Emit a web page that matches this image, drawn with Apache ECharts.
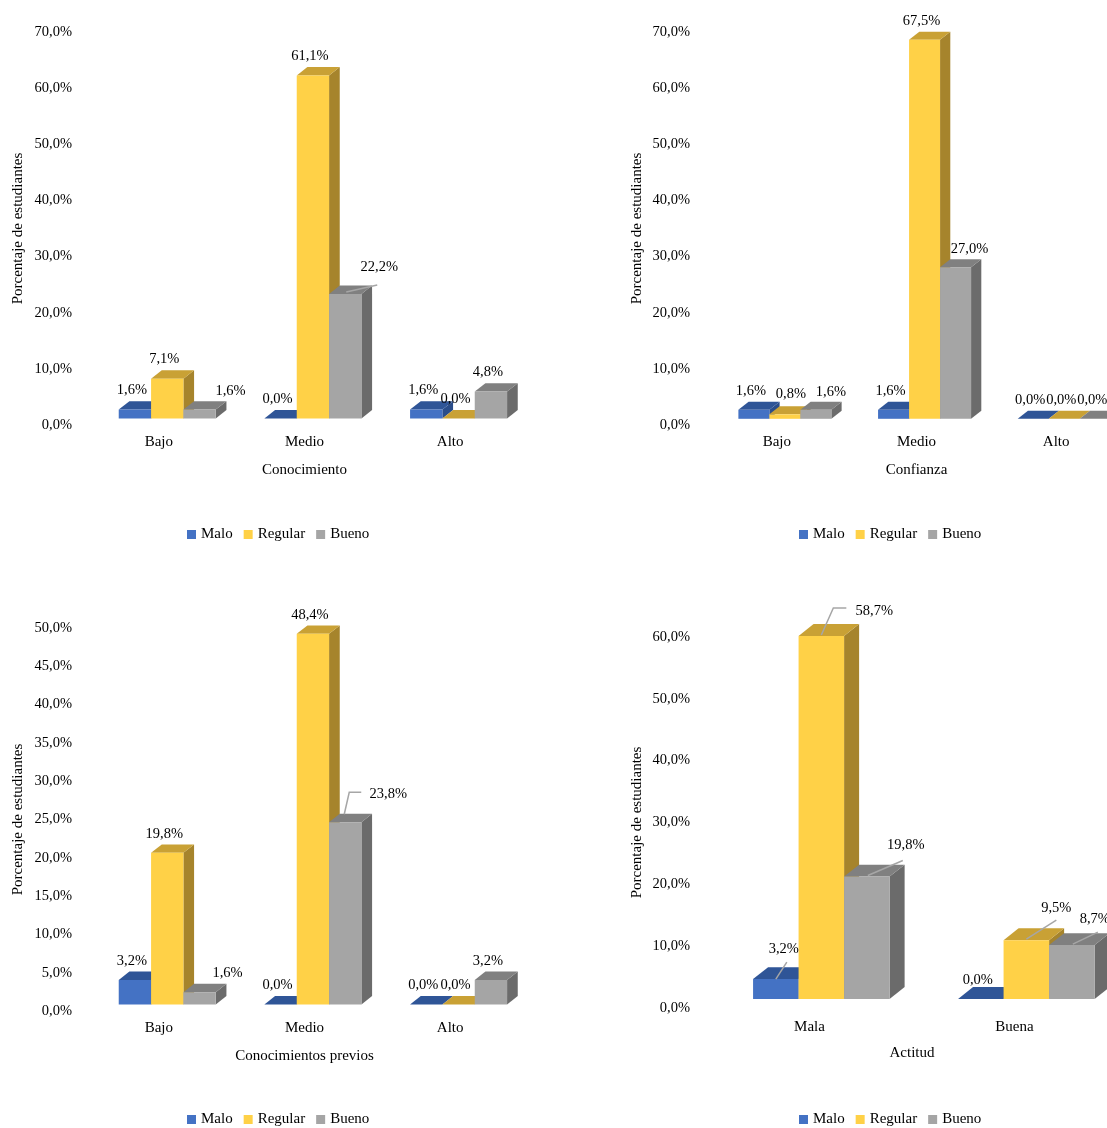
<!DOCTYPE html>
<html>
<head>
<meta charset="utf-8">
<script src="https://cdn.jsdelivr.net/npm/echarts@6/dist/echarts.min.js"></script>
<style>
  html, body { margin: 0; padding: 0; background: #ffffff; }
  #chart { width: 1107px; height: 1128px; }
</style>
</head>
<body>
<div id="chart"></div>
<script>
// ---- data ----
const seriesNames = ['Malo', 'Regular', 'Bueno'];

const catsConocimiento = ['Bajo', 'Medio', 'Alto'];
const maloConocimiento = [1.6, 0.0, 1.6];
const regularConocimiento = [7.1, 61.1, 0.0];
const buenoConocimiento = [1.6, 22.2, 4.8];

const catsConfianza = ['Bajo', 'Medio', 'Alto'];
const maloConfianza = [1.6, 1.6, 0.0];
const regularConfianza = [0.8, 67.5, 0.0];
const buenoConfianza = [1.6, 27.0, 0.0];

const catsPrevios = ['Bajo', 'Medio', 'Alto'];
const maloPrevios = [3.2, 0.0, 0.0];
const regularPrevios = [19.8, 48.4, 0.0];
const buenoPrevios = [1.6, 23.8, 3.2];

const catsActitud = ['Mala', 'Buena'];
const maloActitud = [3.2, 0.0];
const regularActitud = [58.7, 9.5];
const buenoActitud = [19.8, 8.7];

const yAxisTitle = 'Porcentaje de estudiantes';

// ---- styling ----
const FONT = '"Liberation Serif", "Times New Roman", serif';
const faces = [
  { front: '#4472C4', top: '#2F5597', side: '#2A4D8A' },
  { front: '#FFD147', top: '#C9A135', side: '#A6842C' },
  { front: '#A5A5A5', top: '#808080', side: '#6B6B6B' }
];
const leaderColor = '#A6A6A6';

// label placement per bar ('series-category'): offset from the front top centre,
// optional leader polyline in the same relative pixels
const panels = [
  {
    name: 'Conocimiento', cats: catsConocimiento,
    values: [maloConocimiento, regularConocimiento, buenoConocimiento],
    max: 70, interval: 10,
    grid: { left: 86, top: 32, width: 437, height: 393 },
    nameGap: 60, labelMargin: 14, catMargin: 10,
    legend: { left: 187, top: 527 },
    tweaks: {
      '2-0': { at: [31, -18] },
      '2-1': { at: [34, -27], leader: [[1, -2], [32, -9]] }
    }
  },
  {
    name: 'Confianza', cats: catsConfianza,
    values: [maloConfianza, regularConfianza, buenoConfianza],
    max: 70, interval: 10,
    grid: { left: 707, top: 32, width: 419, height: 393 },
    nameGap: 62, labelMargin: 17, catMargin: 10,
    legend: { left: 799, top: 527 },
    tweaks: {
      '1-0': { at: [6, -20] },
      '2-0': { at: [15, -18] },
      '2-1': { at: [14, -18] }
    }
  },
  {
    name: 'Conocimientos previos', cats: catsPrevios,
    values: [maloPrevios, regularPrevios, buenoPrevios],
    max: 50, interval: 5,
    grid: { left: 86, top: 628, width: 437, height: 383 },
    nameGap: 60, labelMargin: 14, catMargin: 10,
    legend: { left: 187, top: 1112 },
    tweaks: {
      '2-0': { at: [28, -19] },
      '2-1': { at: [43, -28], leader: [[-1, -8], [4, -30], [16, -30]] }
    }
  },
  {
    name: 'Actitud', cats: catsActitud,
    values: [maloActitud, regularActitud, buenoActitud],
    max: 60, interval: 10,
    grid: { left: 707, top: 637, width: 410, height: 371 },
    nameGap: 62, labelMargin: 17, catMargin: 12,
    legend: { left: 799, top: 1112 },
    tweaks: {
      '0-0': { at: [8, -30], leader: [[0, 0], [11, -17]] },
      '1-0': { at: [53, -25], leader: [[0, -1], [12, -28], [25, -28]] },
      '2-0': { at: [39, -31], leader: [[1, -1], [36, -16]] },
      '1-1': { at: [30, -32], leader: [[0, -1], [30, -20]] },
      '2-1': { at: [23, -26], leader: [[1, -1], [26, -13]] }
    }
  }
];

const pct = v => v.toFixed(1).replace('.', ',') + '%';

// oblique 3D column: front face, top face and right side face
function barRenderer(sIdx, tweaks) {
  return function (params, api) {
    const ci = api.value(0);
    const val = api.value(1);
    const base = api.coord([ci, 0]);
    const topPt = api.coord([ci, val]);
    const band = api.size([1, 0])[0];
    const w = band * 0.222;
    const sx = 0.26 * w, sy = -0.2 * w;   // floor offset of the bar row
    const dx = 0.33 * w, dy = -0.26 * w;  // bar depth
    const x0 = base[0] - 1.5 * w + sIdx * w + sx;
    const x1 = x0 + w;
    const yb = base[1] + sy;
    const yt = topPt[1] + sy;
    const f = faces[sIdx];
    const cx = x0 + w / 2;

    const children = [
      { type: 'polygon', z2: sIdx,
        shape: { points: [[x1, yb], [x1 + dx, yb + dy], [x1 + dx, yt + dy], [x1, yt]] },
        style: { fill: f.side } },
      { type: 'polygon', z2: sIdx,
        shape: { points: [[x0, yt], [x1, yt], [x1 + dx, yt + dy], [x0 + dx, yt + dy]] },
        style: { fill: f.top } },
      { type: 'rect', z2: sIdx,
        shape: { x: x0, y: yt, width: w, height: Math.max(yb - yt, 0) },
        style: { fill: f.front } }
    ];

    const tw = tweaks[sIdx + '-' + params.dataIndex] || {};
    const at = tw.at || [-3, -19];
    if (tw.leader) {
      children.push({
        type: 'polyline', z2: 99,
        shape: { points: tw.leader.map(p => [cx + p[0], yt + p[1]]) },
        style: { stroke: leaderColor, lineWidth: 1.5, fill: null }
      });
    }
    children.push({
      type: 'text', z2: 100,
      style: {
        text: pct(val), x: cx + at[0], y: yt + at[1],
        align: 'center', verticalAlign: 'middle',
        font: '14.5px ' + FONT, fill: '#000000'
      }
    });
    return { type: 'group', children: children };
  };
}

const grids = [], xAxes = [], yAxes = [], series = [], legends = [];
panels.forEach((p, pi) => {
  grids.push(Object.assign({ containLabel: false, outerBoundsMode: 'none' }, p.grid));
  xAxes.push({
    type: 'category', gridIndex: pi, data: p.cats,
    name: p.name, nameLocation: 'middle', nameGap: 38,
    nameTextStyle: { fontFamily: FONT, fontSize: 15, color: '#000' },
    axisLine: { show: false }, axisTick: { show: false }, splitLine: { show: false },
    axisLabel: { fontFamily: FONT, fontSize: 15, color: '#000', margin: p.catMargin }
  });
  yAxes.push({
    type: 'value', gridIndex: pi, min: 0, max: p.max, interval: p.interval,
    name: yAxisTitle, nameLocation: 'middle', nameGap: p.nameGap, nameRotate: 90,
    nameTextStyle: { fontFamily: FONT, fontSize: 15, color: '#000' },
    axisLine: { show: false }, axisTick: { show: false }, splitLine: { show: false },
    axisLabel: { fontFamily: FONT, fontSize: 14.5, color: '#000', margin: p.labelMargin,
                 formatter: v => pct(v) }
  });
  p.values.forEach((vals, si) => {
    series.push({
      type: 'custom', name: seriesNames[si],
      xAxisIndex: pi, yAxisIndex: pi,
      itemStyle: { color: faces[si].front },
      encode: { x: 0, y: 1 },
      data: vals.map((v, i) => [i, v]),
      renderItem: barRenderer(si, p.tweaks),
      clip: false
    });
  });
  legends.push({
    data: seriesNames, left: p.legend.left, top: p.legend.top,
    orient: 'horizontal', icon: 'rect', itemWidth: 9, itemHeight: 9, itemGap: 11,
    padding: 0, selectedMode: false,
    textStyle: { fontFamily: FONT, fontSize: 15, color: '#000' }
  });
});

const chart = echarts.init(document.getElementById('chart'), null, { renderer: 'canvas' });
chart.setOption({
  backgroundColor: '#ffffff',
  animation: false,
  grid: grids,
  xAxis: xAxes,
  yAxis: yAxes,
  legend: legends,
  series: series
});
</script>
</body>
</html>
